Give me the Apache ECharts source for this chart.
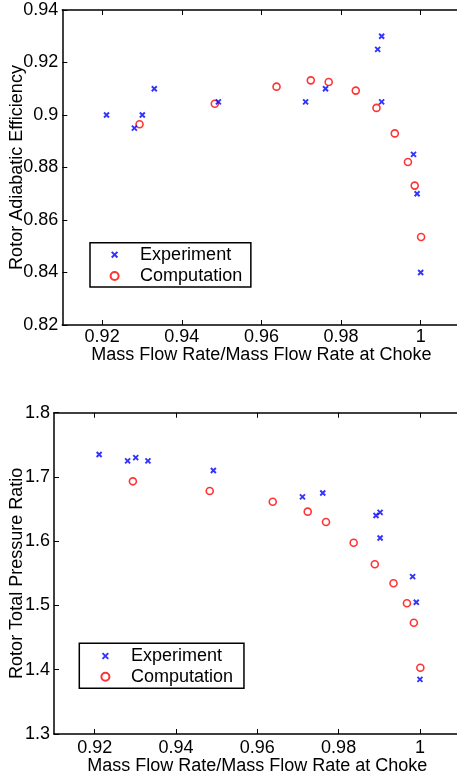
<!DOCTYPE html>
<html>
<head>
<meta charset="utf-8">
<script src="https://cdn.jsdelivr.net/npm/echarts@6/dist/echarts.min.js"></script>
<style>
html,body{margin:0;padding:0;background:#fff;}
#chart{width:457px;height:780px;}
</style>
</head>
<body>
<div id="chart"></div>
<script>
// ---- data ----
var expFlow   = [0.9211, 0.9281, 0.9301, 0.9331, 0.9492, 0.9711, 0.9761, 0.9892, 0.9902, 0.9902, 0.9982, 0.9991, 1.0000];
var expEff    = [0.900,  0.895,  0.900,  0.910,  0.905,  0.905,  0.910,  0.925,  0.930,  0.905,  0.885,  0.870,  0.840];
var expPR     = [1.735,  1.725,  1.730,  1.725,  1.710,  1.669,  1.675,  1.640,  1.645,  1.605,  1.545,  1.505,  1.385];
var compFlow  = [0.9294, 0.9483, 0.9638, 0.9724, 0.9769, 0.9837, 0.9889, 0.9935, 0.9968, 0.9985, 1.0001];
var compEff   = [0.8965, 0.9043, 0.9108, 0.9132, 0.9126, 0.9093, 0.9027, 0.8930, 0.8821, 0.8731, 0.8535];
var compPR    = [1.6932, 1.6782, 1.6615, 1.6460, 1.6299, 1.5977, 1.5641, 1.5345, 1.5034, 1.4732, 1.4032];
var xTicks    = [0.92, 0.94, 0.96, 0.98, 1.00];
var xTickLabels = ['0.92', '0.94', '0.96', '0.98', '1'];
var effTicks  = [0.82, 0.84, 0.86, 0.88, 0.90, 0.92, 0.94];
var effTickLabels = ['0.82', '0.84', '0.86', '0.88', '0.9', '0.92', '0.94'];
var prTicks   = [1.3, 1.4, 1.5, 1.6, 1.7, 1.8];
var prTickLabels = ['1.3', '1.4', '1.5', '1.6', '1.7', '1.8'];

function zip(a, b) { return a.map(function (v, i) { return [v, b[i]]; }); }
function labelFor(ticks, labels) {
  return function (v) {
    for (var i = 0; i < ticks.length; i++) if (Math.abs(ticks[i] - v) < 1e-6) return labels[i];
    return '';
  };
}

var FONT = '"Liberation Sans", Arial, Helvetica, sans-serif';
var lineS = {color: '#000', width: 1.5};
var XSYM = 'path://M-0.2,-0.2M0,0L1,1M1,0L0,1M1.2,1.2';

function xAxisBottom(g, gap, lblMargin) {
  return {
    type: 'value', gridIndex: g, position: 'bottom', min: 0.91, max: 1.01,
    axisLine: {show: true, onZero: false, lineStyle: lineS},
    axisTick: {show: true, inside: true, length: 5, customValues: xTicks, lineStyle: {color: '#000', width: 1}},
    axisLabel: {customValues: xTicks, formatter: labelFor(xTicks, xTickLabels), fontSize: 18, color: '#000', fontFamily: FONT, margin: lblMargin},
    splitLine: {show: false},
    name: 'Mass Flow Rate/Mass Flow Rate at Choke', nameLocation: 'middle', nameGap: gap, nameMoveOverlap: false,
    nameTextStyle: {fontSize: 18, color: '#000', fontFamily: FONT}
  };
}
function xAxisTop(g) {
  return {
    type: 'value', gridIndex: g, position: 'top', min: 0.91, max: 1.01,
    axisLine: {show: true, onZero: false, lineStyle: lineS},
    axisTick: {show: true, inside: true, length: 5, customValues: xTicks, lineStyle: {color: '#000', width: 1}},
    axisLabel: {show: false},
    splitLine: {show: false}
  };
}
function yAxis(g, mn, mx, itv, ticks, labels, name, gap) {
  return {
    type: 'value', gridIndex: g, position: 'left', min: mn, max: mx, interval: itv,
    axisLine: {show: true, onZero: false, lineStyle: lineS},
    axisTick: {show: true, inside: true, length: 5, lineStyle: {color: '#000', width: 1}},
    axisLabel: {formatter: labelFor(ticks, labels), fontSize: 18, color: '#000', fontFamily: FONT, margin: 4},
    splitLine: {show: false},
    name: name, nameLocation: 'middle', nameGap: gap, nameMoveOverlap: false,
    nameTextStyle: {fontSize: 18, color: '#000', fontFamily: FONT}
  };
}
function expSeries(x, y, yi) {
  return {
    name: 'Experiment', type: 'scatter', xAxisIndex: x, yAxisIndex: yi,
    symbol: XSYM, symbolSize: 7,
    itemStyle: {color: 'rgba(0,0,0,0)', borderColor: '#0000ff', borderWidth: 1.9},
    data: y, z: 3
  };
}
function compSeries(x, y, yi) {
  return {
    name: 'Computation', type: 'scatter', xAxisIndex: x, yAxisIndex: yi,
    symbol: 'circle', symbolSize: 7,
    itemStyle: {color: 'rgba(0,0,0,0)', borderColor: '#ff0000', borderWidth: 1.6},
    data: y, z: 2
  };
}
function legend(left, top, pad, w, gap) {
  return {
    orient: 'vertical', left: left, top: top, padding: pad, itemWidth: w, itemHeight: 8, itemGap: gap,
    borderColor: '#000', borderWidth: 1.5, backgroundColor: '#fff', selectedMode: false,
    data: ['Experiment', 'Computation'],
    textStyle: {fontSize: 18, color: '#000', fontFamily: FONT, padding: 0}
  };
}

var chart = echarts.init(document.getElementById('chart'), null, {renderer: 'canvas'});
chart.setOption({
  animation: false,
  backgroundColor: '#fff',
  grid: [
    {left: 62.3, top: 10, width: 398.2, height: 315, outerBoundsMode: 'none', containLabel: false},
    {left: 54, top: 412.7, width: 406.6, height: 321.3, outerBoundsMode: 'none', containLabel: false}
  ],
  xAxis: [xAxisBottom(0, 21, 3), xAxisTop(0), xAxisBottom(1, 23, 5), xAxisTop(1)],
  yAxis: [
    yAxis(0, 0.82, 0.94, 0.02, effTicks, effTickLabels, 'Rotor Adiabatic Efficiency', 36),
    yAxis(1, 1.3, 1.8, 0.1, prTicks, prTickLabels, 'Rotor Total Pressure Ratio', 28)
  ],
  legend: [
    legend(90, 242.7, [3, 8.7, 2, 19.6], 41, 3.3),
    legend(79.3, 643.3, [3.7, 11, 2.6, 21.1], 41, 2.7)
  ],
  series: [
    expSeries(0, zip(expFlow, expEff), 0),
    compSeries(0, zip(compFlow, compEff), 0),
    expSeries(2, zip(expFlow, expPR), 1),
    compSeries(2, zip(compFlow, compPR), 1)
  ]
});
</script>
</body>
</html>
